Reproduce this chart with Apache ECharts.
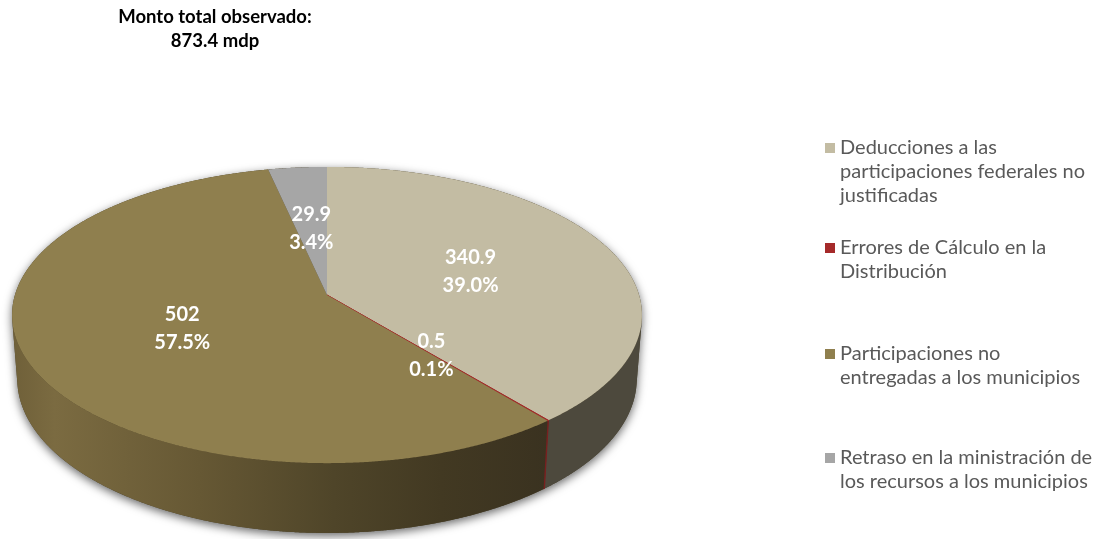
<!DOCTYPE html>
<html>
<head>
<meta charset="utf-8">
<script src="https://cdn.jsdelivr.net/npm/echarts@6/dist/echarts.min.js"></script>
<style>
  html, body { margin: 0; padding: 0; background: #ffffff; }
  #chart { width: 1098px; height: 539px; }
</style>
</head>
<body>
<div id="chart"></div>
<script>
// Amounts observed (millions of pesos) by type of irregularity
const categories = [
  'Deducciones a las participaciones federales no justificadas',
  'Errores de Cálculo en la Distribución',
  'Participaciones no entregadas a los municipios',
  'Retraso en la ministración de los recursos a los municipios'
];
const legendLines = [
  ['Deducciones a las', 'participaciones federales no', 'justificadas'],
  ['Errores de Cálculo en la', 'Distribución'],
  ['Participaciones no', 'entregadas a los municipios'],
  ['Retraso en la ministración de', 'los recursos a los municipios']
];
const values = [340.9, 0.5, 502, 29.9];
const titleLines = ['Monto total observado:', '873.4 mdp'];

// Styling
const topColors = ['#c3bca3', '#a52a2a', '#8f7f4e', '#a6a6a6'];
const wallColors = [
  '#4d493d',
  '#7a1f1f',
  {
    type: 'linear', x: 12, y: 0, x2: 548, y2: 0, global: true,
    colorStops: [
      { offset: 0, color: '#6f6039' },
      { offset: 0.08, color: '#7b6b41' },
      { offset: 0.35, color: '#665834' },
      { offset: 0.6, color: '#4f4529' },
      { offset: 0.8, color: '#423922' },
      { offset: 1, color: '#3a3220' }
    ]
  },
  '#6e6e6e'
];
const legendCenters = [148, 248, 354, 458];
const LEGEND_LINE = 24;

// Perspective view of a tilted disc
const CX = 327, CY = 295;      // screen position of the pie centre
const FOCAL = 2044;            // focal length in px (radius = 1)
const DIST = 6.55;             // camera distance in radii
const SIN_E = 0.466, COS_E = 0.885; // elevation of the view
const DEPTH = 0.233;           // thickness of the disc in radii
const STEP = Math.PI / 720;
const A0 = Math.acos(-1 / (DIST * COS_E)); // first angle where the rim faces the viewer
const A1 = 2 * Math.PI - A0;

const total = values.reduce((s, v) => s + v, 0);

function project(a, r, z) {
  const X = r * Math.sin(a), Y = r * Math.cos(a);
  const up = z * COS_E + Y * SIN_E;
  const fwd = Y * COS_E - z * SIN_E + DIST;
  return [CX + FOCAL * X / fwd, CY - FOCAL * up / fwd];
}

function arc(a1, a2, r, z) {
  const pts = [];
  const n = Math.max(1, Math.ceil(Math.abs(a2 - a1) / STEP));
  for (let k = 0; k <= n; k++) {
    pts.push(project(a1 + (a2 - a1) * k / n, r, z));
  }
  return pts;
}

function renderSlice(i, v) {
  let before = 0;
  for (let k = 0; k < i; k++) before += values[k];
  const start = before / total * 2 * Math.PI;
  const end = (before + v) / total * 2 * Math.PI;
  const children = [];

  if (i === 0) {
    // full silhouette of the disc, carries the drop shadow
    const sil = arc(A0, A1, 1, -DEPTH).concat(arc(A1, 2 * Math.PI + A0, 1, 0));
    children.push({
      type: 'polygon', z2: 0,
      shape: { points: sil },
      style: {
        fill: '#4a4028',
        shadowBlur: 10, shadowColor: 'rgba(0,0,0,0.6)',
        shadowOffsetX: 0, shadowOffsetY: 3
      }
    });
  }

  // visible part of the rim
  const w1 = Math.max(start, A0), w2 = Math.min(end, A1);
  if (w2 > w1) {
    const pts = arc(w1, w2, 1, 0).concat(arc(w2, w1, 1, -DEPTH));
    children.push({
      type: 'polygon', z2: 1,
      shape: { points: pts },
      style: i === 1
        ? { fill: wallColors[i], stroke: wallColors[i], lineWidth: 1 }
        : { fill: wallColors[i] }
    });
  }

  // top face
  const top = [project(0, 0, 0)].concat(arc(start, end, 1, 0));
  children.push({
    type: 'polygon', z2: 2,
    shape: { points: top },
    style: i === 1
      ? { fill: topColors[i], stroke: topColors[i], lineWidth: 1 }
      : { fill: topColors[i] }
  });

  // value and share label at half radius
  const mid = (start + end) / 2;
  const p = project(mid, 0.5, 0);
  children.push({
    type: 'text', z2: 3, x: p[0], y: p[1] + 1,
    style: {
      text: String(v) + '\n' + (v / total * 100).toFixed(1) + '%',
      fill: '#ffffff',
      font: 'bold 20px Lato',
      lineHeight: 28,
      align: 'center',
      verticalAlign: 'middle'
    }
  });

  return { type: 'group', children };
}

// Legend text: blank lines above keep the marker level with the first line
function legendText(lines) {
  return new Array(lines.length - 1).fill('').concat(lines).join('\n');
}

const chart = echarts.init(document.getElementById('chart'));
chart.setOption({
  animation: false,
  textStyle: { fontFamily: 'Lato' },
  title: {
    text: titleLines.join('\n'),
    left: 215, top: 5, padding: 0, textAlign: 'center',
    textStyle: { fontSize: 18.5, fontWeight: 'bold', color: '#000000', lineHeight: 24, fontFamily: 'Lato' }
  },
  legend: legendLines.map((lines, i) => ({
    data: [categories[i]],
    left: 825,
    top: legendCenters[i] - (2 * lines.length - 1) * LEGEND_LINE / 2,
    padding: 0,
    icon: 'rect', itemWidth: 10, itemHeight: 10,
    selectedMode: false,
    formatter: () => legendText(lines),
    textStyle: { fontSize: 20, lineHeight: LEGEND_LINE, color: '#595959', fontFamily: 'Lato' }
  })),
  series: categories.map((name, i) => ({
    type: 'custom',
    name,
    coordinateSystem: 'none',
    itemStyle: { color: topColors[i] },
    data: [[values[i]]],
    renderItem: (params, api) => renderSlice(i, api.value(0))
  }))
});
</script>
</body>
</html>
